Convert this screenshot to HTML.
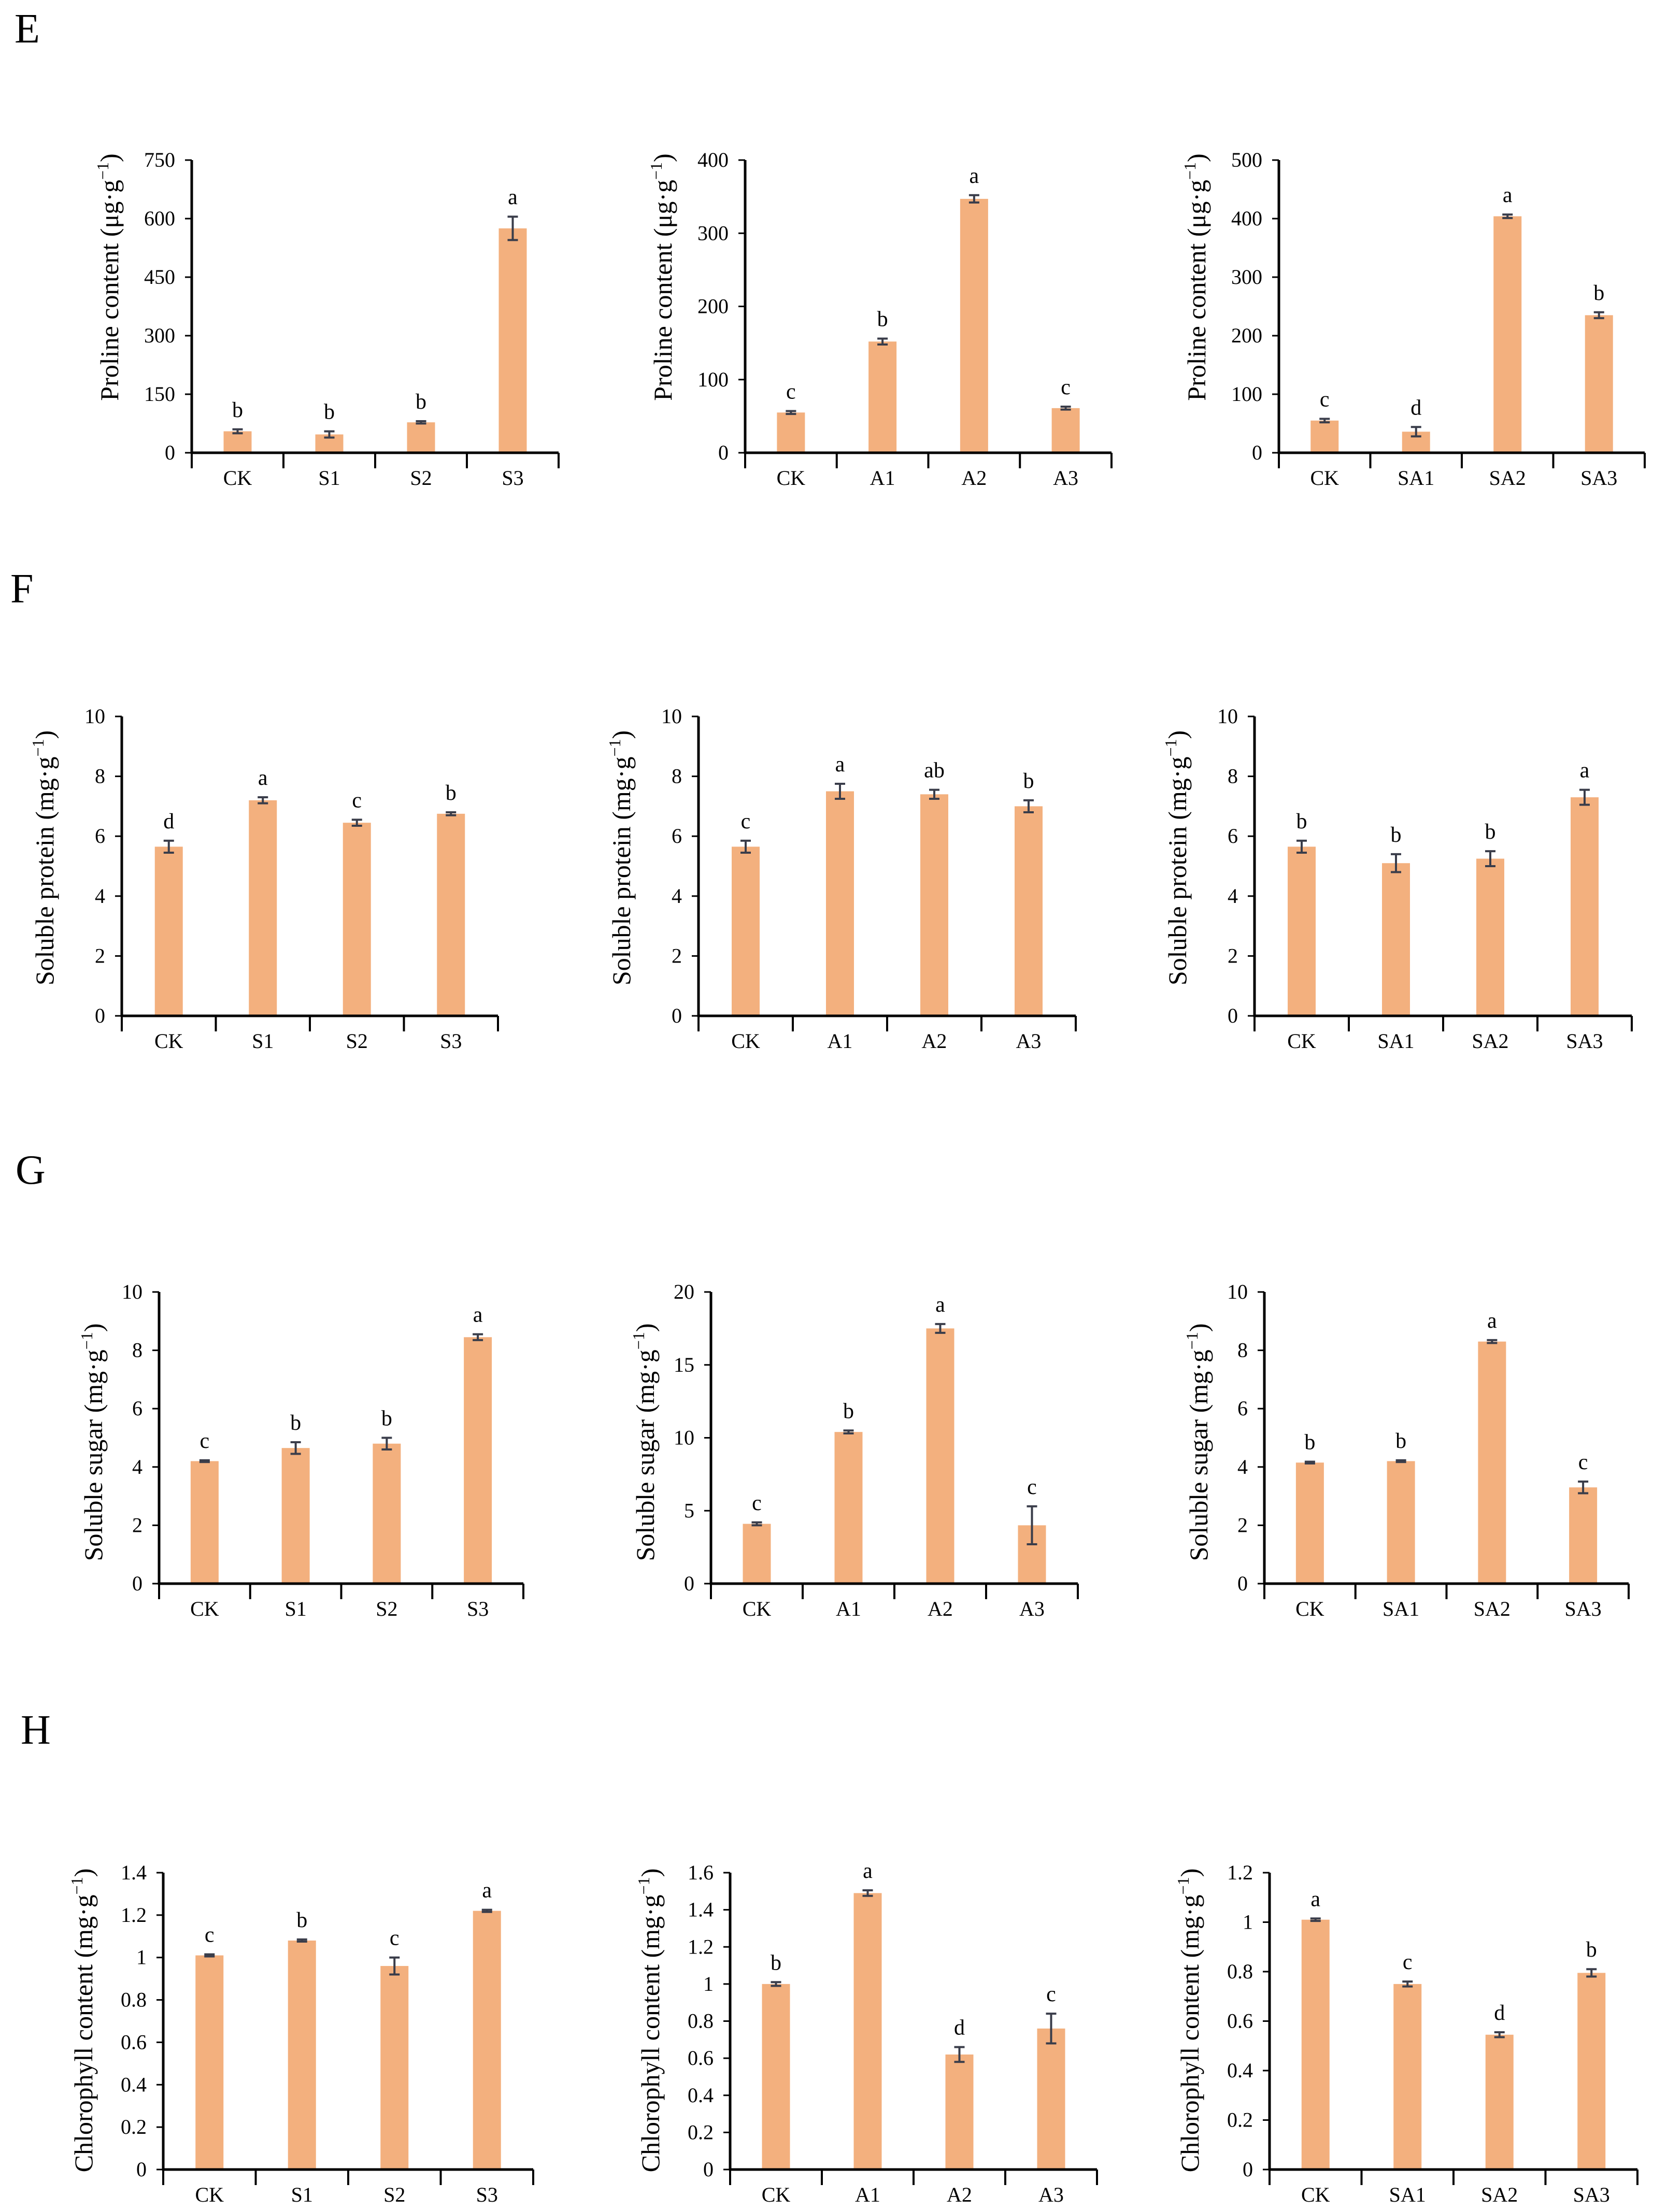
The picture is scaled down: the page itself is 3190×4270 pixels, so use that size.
<!DOCTYPE html>
<html><head><meta charset="utf-8">
<style>
html,body{margin:0;padding:0;background:#fff;}
svg{display:block;font-family:"Liberation Serif",serif;}
</style></head>
<body>
<svg id="fig" width="3190" height="4270" viewBox="0 0 3190 4270" xmlns="http://www.w3.org/2000/svg">
<rect width="3190" height="4270" fill="#fff"/>
<text x="28" y="82" font-size="80">E</text>
<text x="20" y="1163" font-size="80">F</text>
<text x="30" y="2285" font-size="80">G</text>
<text x="40" y="3366" font-size="80">H</text>
</svg>
<script>
// ---- data ----
const catsS = ["CK","S1","S2","S3"];
const catsA = ["CK","A1","A2","A3"];
const catsSA = ["CK","SA1","SA2","SA3"];

const prolineS = [55,47,78,575];
const prolineSErr = [5,8,3,30];
const prolineSLet = ["b","b","b","a"];
const prolineA = [55,152,347,61];
const prolineAErr = [2,4,5,2];
const prolineALet = ["c","b","a","c"];
const prolineSA = [55,36,404,235];
const prolineSAErr = [3,8,3,5];
const prolineSALet = ["c","d","a","b"];

const proteinS = [5.65,7.2,6.45,6.75];
const proteinSErr = [0.2,0.1,0.1,0.05];
const proteinSLet = ["d","a","c","b"];
const proteinA = [5.65,7.5,7.4,7.0];
const proteinAErr = [0.2,0.25,0.15,0.2];
const proteinALet = ["c","a","ab","b"];
const proteinSA = [5.65,5.1,5.25,7.3];
const proteinSAErr = [0.2,0.3,0.25,0.25];
const proteinSALet = ["b","b","b","a"];

const sugarS = [4.2,4.65,4.8,8.45];
const sugarSErr = [0.03,0.2,0.2,0.1];
const sugarSLet = ["c","b","b","a"];
const sugarA = [4.1,10.4,17.5,4.0];
const sugarAErr = [0.1,0.1,0.3,1.3];
const sugarALet = ["c","b","a","c"];
const sugarSA = [4.15,4.2,8.3,3.3];
const sugarSAErr = [0.03,0.03,0.05,0.2];
const sugarSALet = ["b","b","a","c"];

const chlS = [1.01,1.08,0.96,1.22];
const chlSErr = [0.005,0.005,0.04,0.005];
const chlSLet = ["c","b","c","a"];
const chlA = [1.0,1.49,0.62,0.76];
const chlAErr = [0.01,0.015,0.04,0.08];
const chlALet = ["b","a","d","c"];
const chlSA = [1.01,0.75,0.545,0.795];
const chlSAErr = [0.005,0.01,0.01,0.015];
const chlSALet = ["a","c","d","b"];

const ticksProlineS = ["0","150","300","450","600","750"];
const ticksProlineA = ["0","100","200","300","400"];
const ticksProlineSA = ["0","100","200","300","400","500"];
const ticks10 = ["0","2","4","6","8","10"];
const ticks20 = ["0","5","10","15","20"];
const ticksChlS = ["0","0.2","0.4","0.6","0.8","1","1.2","1.4"];
const ticksChlA = ["0","0.2","0.4","0.6","0.8","1","1.2","1.4","1.6"];
const ticksChlSA = ["0","0.2","0.4","0.6","0.8","1","1.2"];

// ---- rendering ----
const NS = "http://www.w3.org/2000/svg";
const svg = document.getElementById("fig");
function mk(tag, attrs, parent){
  const e = document.createElementNS(NS, tag);
  for (const k in attrs) e.setAttribute(k, attrs[k]);
  (parent||svg).appendChild(e);
  return e;
}

function chart(o){
  const g = mk("g", {});
  
  
  const ymax = parseFloat(o.ticks[o.ticks.length-1]);
  const yS = v => o.y0 - (v/ymax)*(o.y0 - o.yTop);
  const step = (o.x1 - o.x0)/o.cats.length;
  const xC = i => o.x0 + step*(i+0.5);
  o.vals.forEach((v,i)=>{
    const r = mk("rect",{x:xC(i)-27, y:yS(v), width:54, height:o.y0-yS(v), fill:"#F3B07E"}, g);
    
    
    const hi = yS(v + o.err[i]), lo = yS(Math.max(0, v - o.err[i]));
    const eb = mk("path",{d:`M${xC(i)} ${hi}V${lo}M${xC(i)-10} ${hi}H${xC(i)+10}M${xC(i)-10} ${lo}H${xC(i)+10}`, stroke:"#3a3d4a", "stroke-width":4, fill:"none"}, g);
    
    
    const t = mk("text",{x:xC(i), y:hi-24, "font-size":42, "text-anchor":"middle"}, g);
    t.textContent = o.lets[i];
    
    
    const xl = mk("text",{x:xC(i), y:o.y0+62, "font-size":40, "text-anchor":"middle"}, g);
    xl.textContent = o.cats[i];
    
    
  });
  const ya = mk("line",{x1:o.x0, y1:o.yTop, x2:o.x0, y2:o.y0+2, stroke:"#000", "stroke-width":5}, g);
  
  
  const xa = mk("line",{x1:o.x0, y1:o.y0, x2:o.x1, y2:o.y0, stroke:"#000", "stroke-width":5}, g);
  
  
  for (let i=0;i<=o.cats.length;i++){
    const x = o.x0 + step*i;
    mk("line",{x1:x, y1:o.y0, x2:x, y2:o.y0+30, stroke:"#000", "stroke-width":4}, g);
  }
  o.ticks.forEach(tk=>{
    const y = yS(parseFloat(tk));
    mk("line",{x1:o.x0-13, y1:y, x2:o.x0, y2:y, stroke:"#000", "stroke-width":3}, g);
    const t = mk("text",{x:o.x0-32, y:y+13, "font-size":40, "text-anchor":"end"}, g);
    t.textContent = tk;
    
    
  });
  const tx = o.x0 + o.tOff, ty = o.tY;
  const tt = mk("text",{x:tx, y:ty, "font-size":50, "text-anchor":"middle", transform:`rotate(-90 ${tx} ${ty})`}, g);
  
  
  tt.appendChild(document.createTextNode(o.title + " ("+o.unit+"·g"));
  const sup = mk("tspan",{dy:-19, "font-size":32}, tt);
  sup.textContent = "−1";
  const cl = mk("tspan",{dy:19}, tt);
  cl.textContent = ")";
}

const cols = {E:[[370,1078],[1438,2145],[2468,3174]],
              F:[[235,961],[1348,2076],[2421,3149]],
              G:[[307,1010],[1372,2080],[2440,3143]],
              H:[[315,1029],[1409,2117],[2450,3160]]};
const rows = {E:[309,874,-142,535], F:[1383,1961,-132,1656], G:[2494,3057,-110,2784], H:[3615,4188,-137,3900]};

function add(r,c,name,cats,vals,err,lets,ticks,title,unit){
  chart({name, x0:cols[r][c][0], x1:cols[r][c][1], yTop:rows[r][0], y0:rows[r][1], tOff:rows[r][2], tY:rows[r][3],
         cats, vals, err, lets, ticks, title, unit});
}
add("E",0,"proline-s-chart",catsS,prolineS,prolineSErr,prolineSLet,ticksProlineS,"Proline content","μg");
add("E",1,"proline-a-chart",catsA,prolineA,prolineAErr,prolineALet,ticksProlineA,"Proline content","μg");
add("E",2,"proline-sa-chart",catsSA,prolineSA,prolineSAErr,prolineSALet,ticksProlineSA,"Proline content","μg");
add("F",0,"protein-s-chart",catsS,proteinS,proteinSErr,proteinSLet,ticks10,"Soluble protein","mg");
add("F",1,"protein-a-chart",catsA,proteinA,proteinAErr,proteinALet,ticks10,"Soluble protein","mg");
add("F",2,"protein-sa-chart",catsSA,proteinSA,proteinSAErr,proteinSALet,ticks10,"Soluble protein","mg");
add("G",0,"sugar-s-chart",catsS,sugarS,sugarSErr,sugarSLet,ticks10,"Soluble sugar","mg");
add("G",1,"sugar-a-chart",catsA,sugarA,sugarAErr,sugarALet,ticks20,"Soluble sugar","mg");
add("G",2,"sugar-sa-chart",catsSA,sugarSA,sugarSAErr,sugarSALet,ticks10,"Soluble sugar","mg");
add("H",0,"chlorophyll-s-chart",catsS,chlS,chlSErr,chlSLet,ticksChlS,"Chlorophyll content","mg");
add("H",1,"chlorophyll-a-chart",catsA,chlA,chlAErr,chlALet,ticksChlA,"Chlorophyll content","mg");
add("H",2,"chlorophyll-sa-chart",catsSA,chlSA,chlSAErr,chlSALet,ticksChlSA,"Chlorophyll content","mg");
</script>
</body></html>
